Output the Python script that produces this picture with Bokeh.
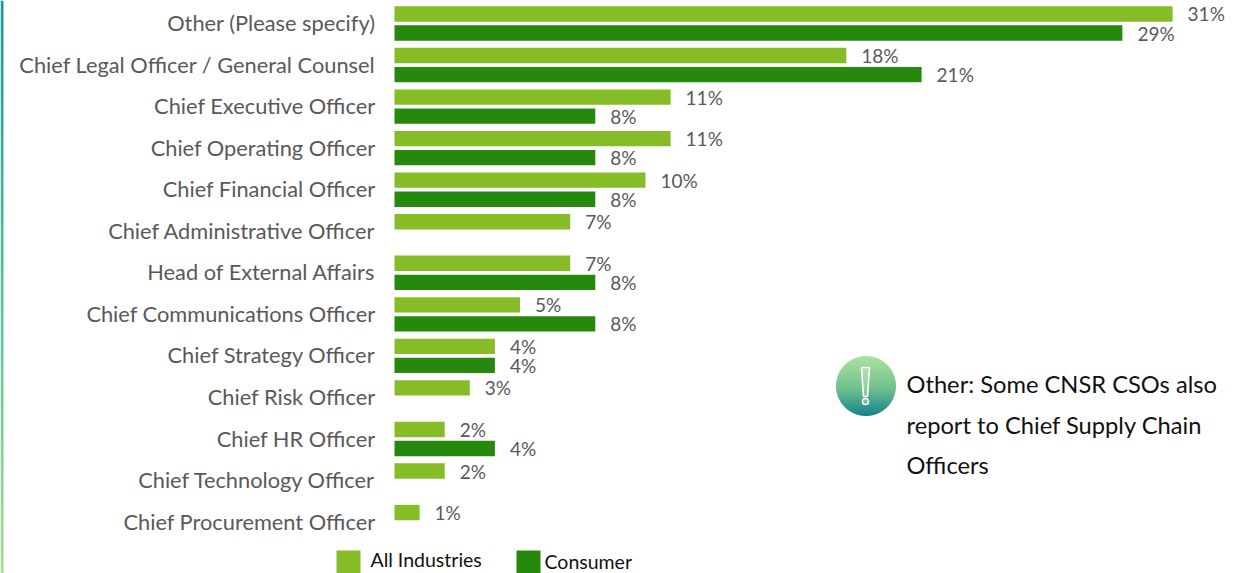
import numpy as np
from bokeh.embed import file_html
from bokeh.models import ColumnDataSource, Range1d
from bokeh.plotting import figure
from bokeh.resources import INLINE
from bokeh.core.properties import value

categories = ["Other (Please specify)", "Chief Legal Officer / General Counsel",
              "Chief Executive Officer", "Chief Operating Officer", "Chief Financial Officer",
              "Chief Administrative Officer", "Head of External Affairs",
              "Chief Communications Officer", "Chief Strategy Officer", "Chief Risk Officer",
              "Chief HR Officer", "Chief Technology Officer", "Chief Procurement Officer"]
all_industries = [31, 18, 11, 11, 10, 7, 7, 5, 4, 3, 2, 2, 1]
consumer = [29, 21, 8, 8, 8, None, 8, 8, 4, None, 4, None, None]
note_lines = ["Other: Some CNSR CSOs also", "report to Chief Supply Chain", "Officers"]
legend_labels = ["All Industries", "Consumer"]

FONT = "Lato"
GREY = "#595959"
LIGHT = "#86BC25"
DARK = "#26890D"
W, H = 1257, 573
ZERO_X, PX_PER_PCT = 394, 25.1
FIRST_ROW, ROW_PX = 23, 41.55

# the frame fills the page; "px" ranges address decorations in page pixels
p = figure(width=W, height=H, output_backend="svg", toolbar_location=None,
           x_range=Range1d(-ZERO_X / PX_PER_PCT, (W - ZERO_X) / PX_PER_PCT),
           y_range=Range1d((H - FIRST_ROW) / ROW_PX, -FIRST_ROW / ROW_PX),
           min_border=0, outline_line_color=None)
p.extra_x_ranges = {"px": Range1d(0, W)}
p.extra_y_ranges = {"px": Range1d(H, 0)}
p.xaxis.visible = False
p.yaxis.visible = False
p.xgrid.visible = False
p.ygrid.visible = False
PX = dict(x_range_name="px", y_range_name="px")

# category names, right-aligned against the zero line
p.text(x=[0] * len(categories), y=list(range(len(categories))), text=categories,
       x_offset=-19, y_offset=-1, text_font=value(FONT), text_font_size="21.8px",
       text_color=GREY, text_align="right", text_baseline="middle")


def series(values, offset, color):
    rows = [(i, v) for i, v in enumerate(values) if v is not None]
    src = ColumnDataSource(dict(y=[r[0] + offset for r in rows], val=[r[1] for r in rows],
                                txt=[f"{r[1]}%" for r in rows]))
    p.hbar(y="y", left=0, right="val", height=0.37, source=src, fill_color=color, line_color=None)
    p.text(x="val", y="y", text="txt", source=src, x_offset=15,
           text_font=value(FONT), text_font_size="19px", text_color=GREY,
           text_align="left", text_baseline="middle")


series(all_industries, -0.229, LIGHT)
series(consumer, 0.229, DARK)


def lerp(stops, t):
    t = np.clip(t, 0, 1)
    xs = [s[0] for s in stops]
    return [np.interp(t, xs, [s[1][k] for s in stops]) for k in range(3)]


def rgba_image(rgb, alpha):
    h, w = alpha.shape
    img = np.zeros((h, w), dtype=np.uint32)
    view = img.view(dtype=np.uint8).reshape((h, w, 4))
    for k in range(3):
        view[..., k] = rgb[k]
    view[..., 3] = (alpha * 255).astype(np.uint8)
    return img


# slim gradient strip down the left page edge
STRIP_STOPS = [(0, (32, 150, 150)), (0.5, (90, 190, 160)), (1, (170, 218, 150))]
ts = np.linspace(0, 1, H)[:, None] * np.ones((H, 3))
p.image_rgba(image=[rgba_image(lerp(STRIP_STOPS, ts), np.ones((H, 3)))],
             x=[0], y=[0], dw=[3], dh=[H], **PX)

# round callout badge with a vertical gradient, anti-aliased through its alpha channel
BADGE_STOPS = [(0, (172, 226, 160)), (0.55, (112, 192, 140)), (1, (20, 132, 140))]
D = 60
yy, xx = np.mgrid[0:D, 0:D]
dist = np.hypot(xx + 0.5 - D / 2, yy + 0.5 - D / 2)
p.image_rgba(image=[rgba_image(lerp(BADGE_STOPS, yy / (D - 1)), np.clip(D / 2 - dist + 0.5, 0, 1))],
             x=[835.5], y=[355.5], dw=[D], dh=[D], **PX)

# exclamation mark on the badge
p.patch(x=[861, 869, 867, 863], y=[367, 367, 396, 396], fill_color="white", fill_alpha=0.25,
        line_color="white", line_width=1.6, **PX)
p.circle(x=[865], y=[401], radius=3, radius_units="screen", fill_color="white", fill_alpha=0.25,
         line_color="white", line_width=1.6, **PX)

# side note
p.text(x=[906] * 3, y=[383, 424, 464], text=note_lines, text_font=value(FONT),
       text_font_size="23.7px", text_color="#111111", text_align="left", text_baseline="middle", **PX)

# legend row beneath the bars
p.quad(left=[336, 516], right=[360, 540], top=[550, 550], bottom=[573, 573],
       fill_color=[LIGHT, DARK], line_color=None, **PX)
p.text(x=[370, 544], y=[559, 561], text=legend_labels, text_font=value(FONT),
       text_font_size="19.5px", text_color="#111111", text_align="left", text_baseline="middle", **PX)

open("out.html", "w").write(file_html(p, INLINE))
